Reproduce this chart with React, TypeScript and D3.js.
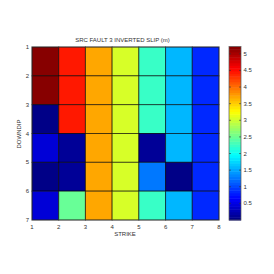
import React, { useEffect, useRef } from "react";
import * as d3 from "d3";

// slip (m) per cell, rows = downdip 1..6, columns = strike 1..7
const strikeTicks = [1, 2, 3, 4, 5, 6, 7, 8];
const downdipTicks = [1, 2, 3, 4, 5, 6, 7];
const row1 = [5.22, 4.48, 3.75, 3.03, 2.28, 1.59, 0.83];
const row2 = [5.22, 4.48, 3.75, 3.03, 2.28, 1.59, 0.83];
const row3 = [0.05, 4.48, 3.75, 3.03, 2.28, 1.59, 0.83];
const row4 = [0.42, 0.1, 3.75, 3.03, 0.1, 1.59, 0.83];
const row5 = [0.0, 0.1, 3.75, 3.03, 1.23, 0.0, 0.83];
const row6 = [0.42, 2.45, 3.75, 3.03, 2.28, 1.59, 0.83];
const slipRows = [row1, row2, row3, row4, row5, row6];
const colorbarTicks = [0.5, 1, 1.5, 2, 2.5, 3, 3.5, 4, 4.5, 5];

// matlab jet, 64 levels
const jet = (t: number) => {
  const n = 64;
  const k = Math.min(n - 1, Math.max(0, Math.floor(t * n)));
  const v = (k + 0.5) / n;
  const c = (x: number) => Math.max(0, Math.min(1, x));
  const r = c(Math.min(4 * v - 1.5, -4 * v + 4.5));
  const g = c(Math.min(4 * v - 0.5, -4 * v + 3.5));
  const b = c(Math.min(4 * v + 0.5, -4 * v + 2.5));
  return d3.rgb(r * 255, g * 255, b * 255).toString();
};

const App = () => {
  const svgRef = useRef<SVGSVGElement>(null);

  useEffect(() => {
    const svg = d3.select(svgRef.current);
    svg.selectAll("*").remove();
    const font = "'Liberation Sans', Arial, sans-serif";
    const txt = "#333";

    const x = d3.scaleLinear().domain([1, 8]).range([32, 219]);
    const y = d3.scaleLinear().domain([1, 7]).range([47, 220]);

    const all = slipRows.flat();
    const [lo, hi] = d3.extent(all) as [number, number];
    const color = (v: number) => jet((v - lo) / (hi - lo));

    // cells
    const cells = slipRows.flatMap((row, i) =>
      row.map((v, j) => ({ s: j + 1, d: i + 1, v }))
    );
    svg
      .append("g")
      .selectAll("rect")
      .data(cells)
      .enter()
      .append("rect")
      .attr("x", (d) => x(d.s))
      .attr("y", (d) => y(d.d))
      .attr("width", (d) => x(d.s + 1) - x(d.s))
      .attr("height", (d) => y(d.d + 1) - y(d.d))
      .attr("fill", (d) => color(d.v))
      .attr("stroke", "rgba(0,0,0,0.6)")
      .attr("stroke-width", 1);

    // axes box
    svg
      .append("rect")
      .attr("x", x(1))
      .attr("y", y(1))
      .attr("width", x(8) - x(1))
      .attr("height", y(7) - y(1))
      .attr("fill", "none")
      .attr("stroke", "rgba(60,60,60,0.6)");

    // tick labels
    svg
      .append("g")
      .selectAll("text")
      .data(strikeTicks)
      .enter()
      .append("text")
      .attr("x", (d) => x(d))
      .attr("y", 228.5)
      .attr("text-anchor", "middle")
      .style("font-family", font)
      .style("font-size", "6px")
      .style("fill", txt)
      .text((d) => d);

    svg
      .append("g")
      .selectAll("text")
      .data(downdipTicks)
      .enter()
      .append("text")
      .attr("x", 29)
      .attr("y", (d) => y(d) + 2)
      .attr("text-anchor", "end")
      .style("font-family", font)
      .style("font-size", "6px")
      .style("fill", txt)
      .text((d) => d);

    // labels
    svg
      .append("text")
      .attr("x", 125)
      .attr("y", 236)
      .attr("text-anchor", "middle")
      .style("font-family", font)
      .style("font-size", "6px")
      .style("fill", txt)
      .text("STRIKE");

    svg
      .append("text")
      .attr("transform", "translate(21,134) rotate(-90)")
      .attr("text-anchor", "middle")
      .style("font-family", font)
      .style("font-size", "6px")
      .style("fill", txt)
      .text("DOWNDIP");

    svg
      .append("text")
      .attr("x", 122.5)
      .attr("y", 42)
      .attr("text-anchor", "middle")
      .style("font-family", font)
      .style("font-size", "6px")
      .style("fill", txt)
      .text("SRC FAULT 3 INVERTED SLIP (m)");

    // colorbar
    const cb = d3.scaleLinear().domain([lo, hi]).range([220, 46.5]);
    const cbX = 229;
    const cbW = 12;
    const steps = d3.range(64);
    svg
      .append("g")
      .selectAll("rect")
      .data(steps)
      .enter()
      .append("rect")
      .attr("x", cbX)
      .attr("y", (k) => cb(lo + ((k + 1) / 64) * (hi - lo)))
      .attr("width", cbW)
      .attr("height", (k) => cb(lo + (k / 64) * (hi - lo)) - cb(lo + ((k + 1) / 64) * (hi - lo)) + 0.5)
      .attr("fill", (k) => jet((k + 0.5) / 64));

    svg
      .append("rect")
      .attr("x", cbX)
      .attr("y", cb(hi))
      .attr("width", cbW)
      .attr("height", cb(lo) - cb(hi))
      .attr("fill", "none")
      .attr("stroke", "rgba(90,90,90,0.7)");

    const cbTicks = svg.append("g");
    colorbarTicks.forEach((t) => {
      cbTicks
        .append("line")
        .attr("x1", cbX)
        .attr("x2", cbX + 2)
        .attr("y1", cb(t))
        .attr("y2", cb(t))
        .attr("stroke", "#333")
        .attr("stroke-width", 0.6);
      cbTicks
        .append("line")
        .attr("x1", cbX + cbW - 2)
        .attr("x2", cbX + cbW)
        .attr("y1", cb(t))
        .attr("y2", cb(t))
        .attr("stroke", "#333")
        .attr("stroke-width", 0.6);
      cbTicks
        .append("text")
        .attr("x", 243.5)
        .attr("y", cb(t) + 2)
        .style("font-family", font)
        .style("font-size", "6px")
        .style("fill", txt)
        .text(t);
    });
  }, []);

  return (
    <svg
      ref={svgRef}
      width={274}
      height={274}
      style={{ position: "absolute", left: 0, top: 0, background: "#fff" }}
    ></svg>
  );
};

export default App;
